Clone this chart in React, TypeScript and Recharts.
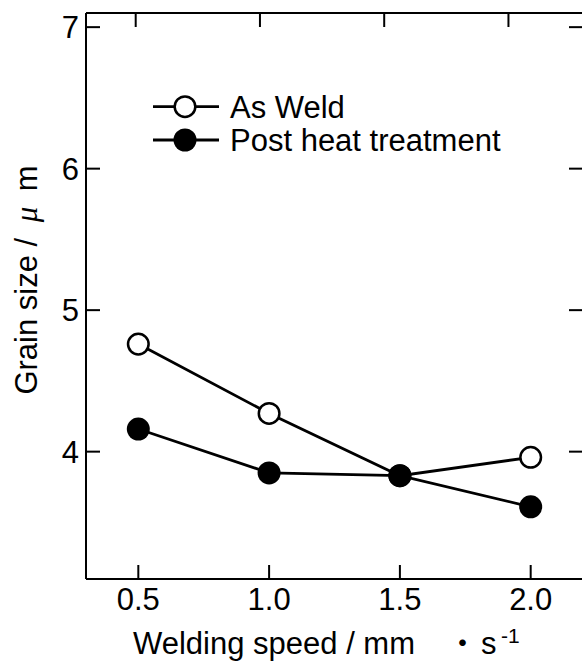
import React from 'react';
import { LineChart, Line, XAxis, YAxis, Legend } from 'recharts';

const speeds = [0.5, 1.0, 1.5, 2.0];
const asWeld = [4.76, 4.27, 3.83, 3.96];
const postHeat = [4.16, 3.85, 3.83, 3.61];
const xTicks = [0.5, 1.0, 1.5, 2.0];
const yTicks = [4, 5, 6, 7];
const seriesNames = ['As Weld', 'Post heat treatment'];

const data = speeds.map((s, i) => ({ speed: s, asWeld: asWeld[i], postHeat: postHeat[i] }));

const FONT = '"Liberation Sans", Arial, sans-serif';
const FS = 31;
const TICK = 14;
const SW = 2;
const LW = 2.8;

const LeftTick = (props: any) => {
  const { x, y, payload } = props;
  return (
    <g>
      <line x1={x} y1={y} x2={x + TICK} y2={y} stroke="#000" strokeWidth={SW} />
      <text x={x - 7} y={y + 11} textAnchor="end" fontSize={FS} fontFamily={FONT} fill="#000">
        {String(payload.value)}
      </text>
    </g>
  );
};

const RightTick = (props: any) => {
  const { x, y } = props;
  return <line x1={x - TICK} y1={y} x2={x} y2={y} stroke="#000" strokeWidth={SW} />;
};

const BottomTick = (props: any) => {
  const { x, y, payload } = props;
  return (
    <g>
      <line x1={x} y1={y - TICK} x2={x} y2={y} stroke="#000" strokeWidth={SW} />
      <text x={x} y={y + 31} textAnchor="middle" fontSize={FS} fontFamily={FONT} fill="#000">
        {Number(payload.value).toFixed(1)}
      </text>
    </g>
  );
};

const TopTick = (props: any) => {
  const { x, y } = props;
  return <line x1={x} y1={y} x2={x} y2={y + TICK} stroke="#000" strokeWidth={SW} />;
};

const XTitle = () => (
  <text x={133} y={654} fontSize={FS} fontFamily={FONT} fill="#000" textAnchor="start">
    Welding speed / mm
    <tspan x={447} fontFamily='"Noto Sans CJK JP", sans-serif'>・</tspan>
    <tspan x={481}>s</tspan>
    <tspan x={501} dy={-11} fontSize={21}>-1</tspan>
  </text>
);

const YTitle = () => (
  <text
    x={37}
    y={280}
    transform="rotate(-90, 37, 280)"
    fontSize={FS}
    fontFamily={FONT}
    fill="#000"
    textAnchor="middle"
  >
    Grain size /{'\u2002'}
    <tspan fontFamily='"Liberation Serif", serif' fontStyle="italic">μ</tspan>
    {'\u2002'}m
  </text>
);

const LegendContent = () => (
  <svg width={420} height={70} style={{ display: 'block', overflow: 'visible' }}>
    <line x1={3} y1={16.7} x2={69} y2={16.7} stroke="#000" strokeWidth={LW} />
    <circle cx={35} cy={16.7} r={10.3} fill="#fff" stroke="#000" strokeWidth={2.5} />
    <text x={80} y={28} fontSize={FS} fontFamily={FONT} fill="#000">{seriesNames[0]}</text>
    <line x1={3} y1={50} x2={69} y2={50} stroke="#000" strokeWidth={LW} />
    <circle cx={35} cy={50} r={11.5} fill="#000" />
    <text x={80} y={61.3} fontSize={FS} fontFamily={FONT} fill="#000">{seriesNames[1]}</text>
  </svg>
);

export default function App() {
  return (
    <div
      style={{
        position: 'fixed',
        left: 0,
        top: 0,
        width: 582,
        height: 662,
        overflow: 'hidden',
        background: '#fff',
      }}
    >
      <LineChart width={600} height={662} data={data} margin={{ top: 0, right: 0, bottom: 0, left: 0 }}>
        <XAxis
          xAxisId="bottom"
          dataKey="speed"
          type="number"
          domain={[0.3, 2.2]}
          ticks={xTicks}
          interval={0}
          orientation="bottom"
          height={83}
          tickSize={0}
          tickMargin={0}
          tickLine={false}
          tick={BottomTick}
          axisLine={{ stroke: '#000', strokeWidth: SW }}
          allowDataOverflow
          label={<XTitle />}
        />
        <XAxis
          xAxisId="top"
          dataKey="speed"
          type="number"
          domain={[0.3, 2.3]}
          ticks={xTicks}
          interval={0}
          orientation="top"
          height={13}
          tickSize={0}
          tickMargin={0}
          tickLine={false}
          tick={TopTick}
          axisLine={{ stroke: '#000', strokeWidth: SW }}
          allowDataOverflow
        />
        <YAxis
          yAxisId="left"
          type="number"
          domain={[3.1, 7.1]}
          ticks={yTicks}
          interval={0}
          orientation="left"
          width={86}
          tickSize={0}
          tickMargin={0}
          tickLine={false}
          tick={LeftTick}
          axisLine={{ stroke: '#000', strokeWidth: SW }}
          allowDataOverflow
          label={<YTitle />}
        />
        <YAxis
          yAxisId="right"
          type="number"
          domain={[3.1, 7.1]}
          ticks={yTicks}
          interval={0}
          orientation="right"
          width={17}
          tickSize={0}
          tickMargin={0}
          tickLine={false}
          tick={RightTick}
          axisLine={{ stroke: '#000', strokeWidth: SW }}
          allowDataOverflow
        />
        <Legend
          layout="vertical"
          align="center"
          verticalAlign="middle"
          wrapperStyle={{ position: 'absolute', left: 150, top: 90, width: 420, height: 70 }}
          content={LegendContent}
        />
        <Line
          xAxisId="bottom"
          yAxisId="left"
          dataKey="asWeld"
          name={seriesNames[0]}
          stroke="#000"
          strokeWidth={LW}
          dot={{ r: 10.3, fill: '#fff', stroke: '#000', strokeWidth: 2.5 }}
          activeDot={false}
          isAnimationActive={false}
        />
        <Line
          xAxisId="bottom"
          yAxisId="left"
          dataKey="postHeat"
          name={seriesNames[1]}
          stroke="#000"
          strokeWidth={LW}
          dot={{ r: 11.5, fill: '#000', stroke: '#000', strokeWidth: 0 }}
          activeDot={false}
          isAnimationActive={false}
        />
      </LineChart>
    </div>
  );
}
